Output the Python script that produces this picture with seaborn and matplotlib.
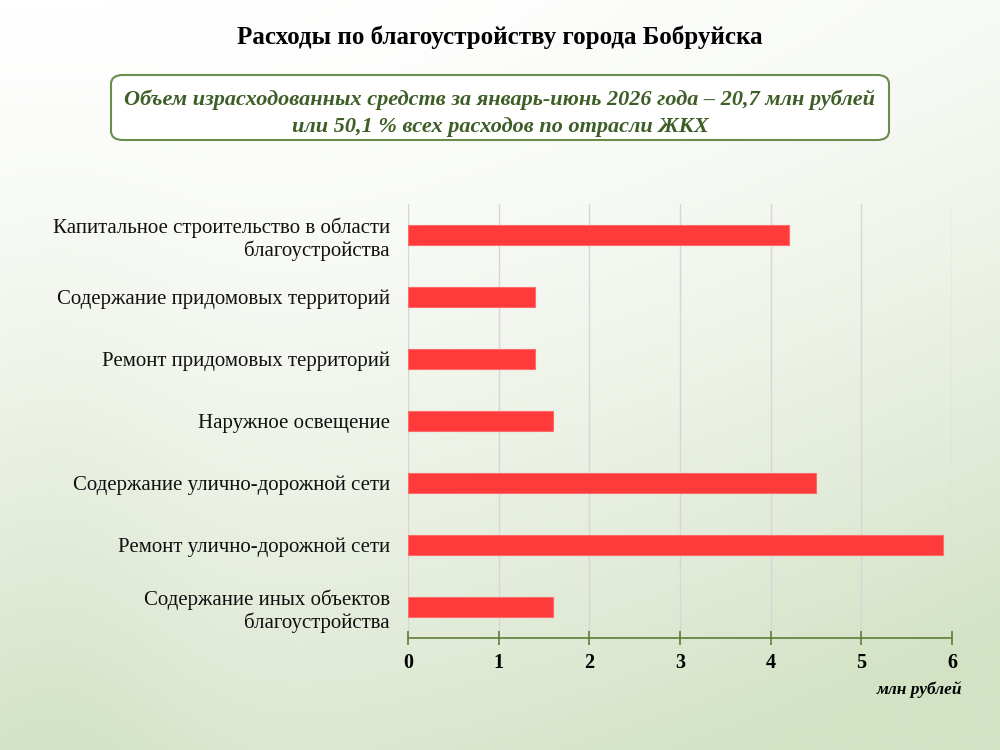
import numpy as np
import pandas as pd
import matplotlib
matplotlib.use("Agg")
import matplotlib.pyplot as plt
from matplotlib.patches import FancyBboxPatch
from matplotlib.colors import LinearSegmentedColormap
import seaborn as sns

categories = [
    "Капитальное строительство в области\nблагоустройства",
    "Содержание придомовых территорий",
    "Ремонт придомовых территорий",
    "Наружное освещение",
    "Содержание улично-дорожной сети",
    "Ремонт улично-дорожной сети",
    "Содержание иных объектов\nблагоустройства",
]
values = [4.2, 1.4, 1.4, 1.6, 4.5, 5.9, 1.6]
x_ticks = [0, 1, 2, 3, 4, 5, 6]

title = "Расходы по благоустройству города Бобруйска"
subtitle = ("Объем израсходованных средств за январь-июнь 2026 года – 20,7 млн рублей\n"
            "или 50,1 % всех расходов по отрасли ЖКХ")
unit_label = "млн рублей"

sns.set_theme(style="white")
plt.rcParams["font.family"] = ["Liberation Serif", "DejaVu Serif"]

fig = plt.figure(figsize=(10, 7.5), dpi=100)

# background gradient
bg = fig.add_axes([0, 0, 1, 1], zorder=-10)
h, w = 300, 400
yy, xx = np.mgrid[0:1:complex(0, h), 0:1:complex(0, w)]
g = 0.75 * yy ** 1.5 + 0.45 * xx ** 2 * (0.4 + 0.6 * yy) + 0.25 * np.exp(-((xx - 0.05) ** 2) / 0.02) * yy
g = np.clip(g, 0, 1)
cmap = LinearSegmentedColormap.from_list("bgg", ["#ffffff", "#e9f0e2", "#d3e2c4"])
bg.imshow(g, cmap=cmap, aspect="auto", extent=[0, 1, 0, 1], origin="upper", vmin=0, vmax=1)
bg.set_axis_off()

df = pd.DataFrame({"category": categories, "value": values})

ax = fig.add_axes([0.408, 0.1493, 0.544, 0.5787])
ax.set_facecolor("none")
sns.barplot(data=df, y="category", x="value", orient="h", color="#ff3a3a",
            width=0.33, saturation=1, ax=ax, edgecolor="#ff6a6a", linewidth=0.8, zorder=3)
ax.set_xlim(0, 6)
ax.set_ylim(6.5, -0.5)
ax.set_xticks(x_ticks)
ax.set_xticklabels([str(t) for t in x_ticks], fontsize=14.5, fontweight="bold")
ax.set_ylabel("")
ax.set_xlabel("")
ax.tick_params(axis="y", length=0, labelsize=15, pad=13, left=False)
ax.tick_params(axis="x", bottom=True, direction="inout", length=10, width=1.2,
               color="#5d7d3a", pad=6, labelcolor="black")
for lbl in ax.get_yticklabels():
    lbl.set_horizontalalignment("right")
    lbl.set_color("#111111")
ax.grid(axis="x", color="#d6d6d6", linewidth=1, zorder=0)
ax.set_axisbelow(True)
for s in ["top", "right", "left"]:
    ax.spines[s].set_visible(False)
ax.spines["bottom"].set_color("#5d7d3a")
ax.spines["bottom"].set_linewidth(1.2)

# title
fig.text(0.5, 1 - 37 / 750, title, ha="center", va="center", fontsize=18, fontweight="bold", color="black")

# subtitle box
box = FancyBboxPatch((0.111, 1 - 140 / 750), 0.778, 65 / 750,
                     boxstyle="round,pad=0,rounding_size=0.012", transform=fig.transFigure,
                     facecolor="white", edgecolor="#6b8c4a", linewidth=1.5, zorder=5)
fig.patches.append(box)
fig.text(0.5, 1 - 113 / 750, subtitle, ha="center", va="center", fontsize=16,
         fontweight="bold", fontstyle="italic", color="#3d5e27", linespacing=1.5, zorder=6)

fig.text(0.962, 1 - 690 / 750, unit_label, ha="right", va="center", fontsize=12.5,
         fontweight="bold", fontstyle="italic", color="black")

fig.savefig("out.png", dpi=100)
